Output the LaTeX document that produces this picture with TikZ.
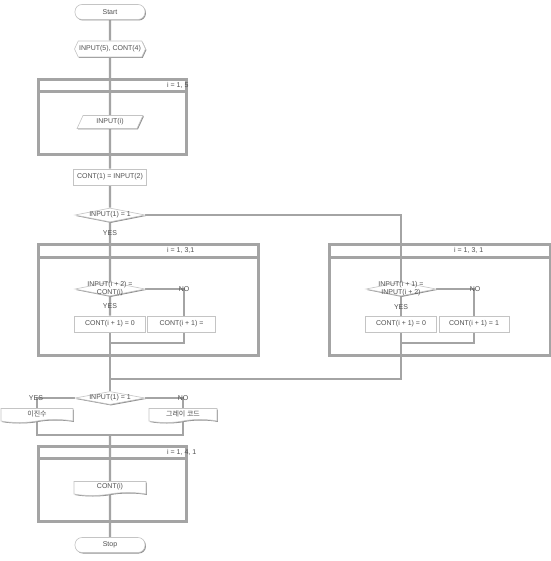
\documentclass[tikz,border=0pt]{standalone}
\usepackage{fontspec}
\setmainfont{Liberation Sans}
\newfontfamily\krfont{Noto Sans CJK KR}
\usetikzlibrary{shapes.geometric,shapes.symbols,shadows}
\pgfdeclarelayer{background}
\pgfdeclarelayer{bottom}
\pgfsetlayers{bottom,background,main}
\definecolor{lg}{RGB}{164,164,164}
\definecolor{bd}{RGB}{196,196,196}
\definecolor{sh}{RGB}{145,145,145}
\definecolor{tx}{RGB}{80,80,80}
\begin{document}
\begin{tikzpicture}[x=1pt,y=-1pt,
 txt/.style={font=\fontsize{7}{7.5}\selectfont, text=tx, inner sep=0pt, align=center},
 shp/.style={draw=bd, line width=0.6pt, fill=white, drop shadow={shadow xshift=0.9pt, shadow yshift=-1pt, fill=sh, opacity=1}, txt},
 term/.style={shp, rectangle, rounded corners=7pt, minimum width=70pt, minimum height=15pt},
 prep/.style={shp, signal, signal to=west and east, signal pointer angle=130, minimum width=71pt, minimum height=16pt},
 io/.style={shp, trapezium, trapezium left angle=65, trapezium right angle=115, trapezium stretches=true, minimum width=66pt, minimum height=13pt},
 proc/.style={shp, rectangle, minimum height=16pt},
 dec/.style={shp, diamond, aspect=5, minimum width=70pt, minimum height=14pt},
 doc/.style={shp, tape, tape bend top=none, tape bend bottom=in and out, tape bend height=3pt, minimum height=14pt},
 conn/.style={draw=lg, line width=2.2pt},
 loopbox/.style={draw=lg, line width=3pt, rectangle, inner sep=0pt, anchor=north west},
 hdr/.style={draw=lg, line width=3pt},
]
\useasboundingbox (0,0) rectangle (550,561);
\begin{pgfonlayer}{bottom}
\fill[white] (0,0) rectangle (550,561);
\end{pgfonlayer}

% shapes
\node[term] (start) at (110,12) {Start};
\node[prep] (prep) at (110,49) {INPUT(5), CONT(4)};
\node[io] (inp) at (110,122) {INPUT(i)};
\node[proc, minimum width=73pt] (c1) at (110,177) {CONT(1) = INPUT(2)};
\node[dec] (d1) at (110,215) {};
\node[txt] (d1t) at (d1) {INPUT(1) = 1};

\node[dec] (d2) at (110,289) {};
\node[txt] (d2t) at (110,288.5) {INPUT(i + 2) =\\CONT(i)};
\node[proc, minimum width=71pt] (b1) at (110,324) {CONT(i + 1) = 0};
\node[proc, minimum width=68pt] (b2) at (181.5,324) {CONT(i + 1) =};

\node[dec] (d3) at (401,289) {};
\node[txt] (d3t) at (401,288.5) {INPUT(i + 1) =\\INPUT(i + 2)};
\node[proc, minimum width=71pt] (b3) at (401,324) {CONT(i + 1) = 0};
\node[proc, minimum width=70pt] (b4) at (474,324) {CONT(i + 1) = 1};

\node[dec, minimum height=13pt] (d4) at (110,398) {};
\node[txt] (d4t) at (d4) {INPUT(1) = 1};
\node[doc, minimum width=72pt] (doc1) at (37,414) {\krfont 이진수};
\node[doc, minimum width=68pt] (doc2) at (183,414) {\krfont 그레이 코드};
\node[doc, minimum width=72pt] (doc3) at (110,487) {CONT(i)};
\node[term] (stop) at (110,545) {Stop};

% labels
\node[txt] (yes1) at (110,233) {YES};
\node[txt] (yes2) at (110,306) {YES};
\node[txt] (no2) at (184,289) {NO};
\node[txt] (yes3) at (401,307) {YES};
\node[txt] (no3) at (475,289) {NO};
\node[txt] (yes4) at (36,398) {YES};
\node[txt] (no4) at (183,398) {NO};

\node[txt, anchor=west] (h1) at (167,85.5) {i = 1, 5};
\node[txt, anchor=west] (h2) at (167,250.5) {i = 1, 3,1};
\node[txt, anchor=west] (h4) at (454,250.5) {i = 1, 3, 1};
\node[txt, anchor=west] (h3) at (167,452) {i = 1, 4, 1};

\begin{pgfonlayer}{background}
% loop boxes
\node[loopbox, minimum width=148pt, minimum height=75pt] (L1) at (37,78) {};
\draw[hdr] ([yshift=-14pt]L1.north west) -- ([yshift=-14pt]L1.north east);
\node[loopbox, minimum width=220pt, minimum height=111pt] (L2) at (37,243) {};
\draw[hdr] ([yshift=-14pt]L2.north west) -- ([yshift=-14pt]L2.north east);
\node[loopbox, minimum width=221pt, minimum height=111pt] (L4) at (328,243) {};
\draw[hdr] ([yshift=-14pt]L4.north west) -- ([yshift=-14pt]L4.north east);
\node[loopbox, minimum width=148pt, minimum height=75pt] (L3) at (37,445) {};
\draw[hdr] ([yshift=-13pt]L3.north west) -- ([yshift=-13pt]L3.north east);

% connectors
\draw[conn] (start) -- (prep) -- (inp) -- (c1) -- (d1) -- (d2) -- (b1);
\draw[conn] (b1.south) -- (d4.north);
\coordinate (n1) at (184,289);
\coordinate (m1) at (184,343);
\coordinate (j1) at (110,343);
\draw[conn] (d2.east) -- (n1) -- (n1 |- b2.north);
\draw[conn] (n1 |- b2.south) -- (m1) -- (j1);

\coordinate (r0) at (401,215);
\draw[conn] (d1.east) -- (r0) -- (d3.north);
\draw[conn] (d3.south) -- (b3.north);
\coordinate (n2) at (474,289);
\coordinate (m2) at (474,343);
\coordinate (j2) at (401,343);
\draw[conn] (d3.east) -- (n2) -- (n2 |- b4.north);
\draw[conn] (n2 |- b4.south) -- (m2) -- (j2);
\coordinate (r1) at (401,379);
\coordinate (j3) at (110,379);
\draw[conn] (b3.south) -- (r1) -- (j3);

\coordinate (y4) at (37,398);
\coordinate (n4) at (183,398);
\draw[conn] (d4.west) -- (y4) -- (doc1.north);
\draw[conn] (d4.east) -- (n4) -- (doc2.north);
\coordinate (q1) at (37,435);
\coordinate (q2) at (183,435);
\coordinate (q0) at (110,435);
\draw[conn] (doc1.south) -- (q1) -- (q2) -- (doc2.south);
\draw[conn] (q0) -- (doc3) -- (stop);
\end{pgfonlayer}
\end{tikzpicture}
\end{document}
